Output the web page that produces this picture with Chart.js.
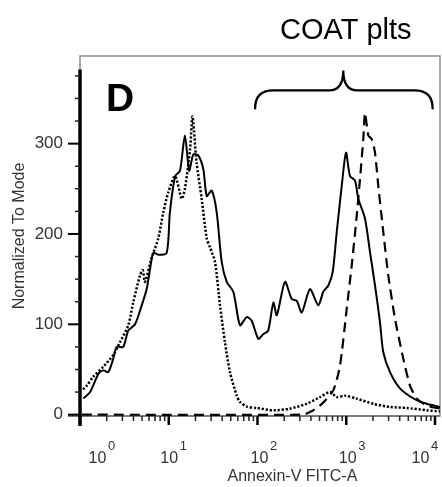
<!DOCTYPE html>
<html><head><meta charset="utf-8">
<style>html,body{margin:0;padding:0;background:#fff;}#wrap{width:442px;height:487px;}</style>
<script src="https://cdn.jsdelivr.net/npm/chart.js@4.4.1/dist/chart.umd.min.js"></script>
</head><body><div id="wrap"><canvas id="c" width="442" height="487"></canvas></div>
<script>
// ---- text ----
const titleText = 'COAT plts';
const panelLetter = 'D';
const xAxisTitle = 'Annexin-V FITC-A';
const yAxisTitle = 'Normalized To Mode';

// ---- ticks ----
const yTickValues = [0, 100, 200, 300];
const xTickValues = [1, 10, 100, 1000, 10000];
const xTickBase = '10';
const xTickExponents = ['0', '1', '2', '3', '4'];

// ---- series: solid (Annexin-V stained) ----
const solidX = [1.09,1.30,1.61,1.83,2.08,2.37,2.59,3.07,3.50,4.17,4.96,5.64,6.15,6.70,7.62,9.48,10.3,11.8,13.4,15.2,17.0,18.9,21.5,24.5,26.8,30.5,34.7,39.5,45.0,53.4,63.5,75.5,86.0,102,116,132,151,165,204,243,277,315,390,484,551,628,704,781,889,994,1102,1255,1367,1627,1852,2109,2401,2615,3112,4033,5694,8063,11385];
const solidY = [18,25,45,49,47,62,75,75,93,100,121,139,161,179,177,179,224,264,270,309,270,288,287,272,242,248,224,169,147,136,99,108,104,84,89,93,124,110,147,128,126,113,139,121,136,143,158,202,253,290,264,259,239,217,180,143,102,69,47,29,18,12,8.5];

// ---- series: dotted ----
const dottedX = [1.08,1.19,1.41,1.83,2.37,2.82,3.50,3.99,4.74,5.09,5.40,6.43,7.62,8.68,9.88,11.8,14.0,15.2,17.4,18.5,20.6,23.5,26.8,29.2,33.2,37.8,43.0,49.0,58.3,63.5,75.5,98,151,232,358,506,656,781,968,1312,2017,3112,4798,8063,11385];
const dottedY = [28,32,42,53,66,80,99,125,154,160,147,174,195,224,246,264,239,250,294,330,279,239,195,185,169,121,80,47,21,14,9,7.4,4.8,6.6,12,19.5,25,19.5,21,17.7,12,8.5,7.4,4.8,3.6];

// ---- series: dashed ----
const dashedX = [1.05,326,411,533,715,850,1012,1152,1312,1429,1556,1627,1773,1935,2109,2297,2615,2978,3543,4394,5227,6220,8063,11385];
const dashedY = [0,0,4,12,27,54,117,165,220,261,305,334,309,305,290,253,202,154,106,62,32,18,10,6.6];

// ---- brace annotation (data units) ----
const braceFromX = 94, braceToX = 9400, braceMidX = 926;
const braceEndY = 339, braceBarY = 359, braceTipY = 381;
const yAxisTop = 382;

function zip(xs, ys) { return xs.map((x, i) => ({x: x, y: ys[i]})); }

const FONT = '"Liberation Sans", Arial, Helvetica, sans-serif';
Chart.defaults.font.family = FONT;

const decor = {
  id: 'decor',
  beforeDatasetsDraw(chart) {
    const {ctx, chartArea: a} = chart;
    ctx.save();
    ctx.strokeStyle = '#8f8f8f'; ctx.lineWidth = 1.5;
    ctx.strokeRect(a.left, a.top, a.right - a.left, a.bottom - a.top);
    ctx.strokeStyle = '#7a7a7a'; ctx.lineWidth = 2;
    ctx.beginPath(); ctx.moveTo(a.left - 12, a.bottom); ctx.lineTo(a.right, a.bottom); ctx.stroke();
    ctx.restore();
  },
  afterDatasetsDraw(chart) {
    const {ctx, chartArea: a, scales: {x, y}} = chart;
    ctx.save();
    // y axis line
    ctx.strokeStyle = '#000'; ctx.lineWidth = 3.5;
    ctx.beginPath(); ctx.moveTo(a.left, y.getPixelForValue(yAxisTop)); ctx.lineTo(a.left, a.bottom + 10); ctx.stroke();
    // y ticks
    for (let v = 0; v <= 375; v += 25) {
      const py = y.getPixelForValue(v);
      const major = v % 100 === 0;
      ctx.lineWidth = major ? 2 : 1.5;
      ctx.strokeStyle = major ? '#000' : '#222';
      ctx.beginPath(); ctx.moveTo(a.left - (major ? 12 : 5), py); ctx.lineTo(a.left, py); ctx.stroke();
    }
    // x ticks
    for (let k = 0; k < xTickValues.length; k++) {
      const base = xTickValues[k];
      const mMax = k === xTickValues.length - 1 ? 1 : 9;
      for (let m = 1; m <= mMax; m++) {
        const px = x.getPixelForValue(base * m);
        const major = m === 1;
        ctx.lineWidth = major ? 2.5 : 1.5;
        ctx.strokeStyle = major ? '#000' : '#222';
        ctx.beginPath(); ctx.moveTo(px, a.bottom); ctx.lineTo(px, a.bottom + (major ? 9 : 5)); ctx.stroke();
      }
    }
    // x tick labels with superscripts
    const shifts = [17.5, 0.5, 2, 1.5, -14.5];
    ctx.fillStyle = '#333';
    ctx.textBaseline = 'alphabetic';
    for (let i = 0; i < xTickValues.length; i++) {
      const px = x.getPixelForValue(xTickValues[i]) + shifts[i];
      ctx.font = '16px ' + FONT;
      ctx.textAlign = 'center';
      ctx.fillText(xTickBase, px, 463);
      const w = ctx.measureText(xTickBase).width;
      ctx.font = '13px ' + FONT;
      ctx.textAlign = 'left';
      ctx.fillText(xTickExponents[i], px + w / 2 + 1.5, 450);
    }
    // x axis title
    ctx.font = '16px ' + FONT;
    ctx.textAlign = 'center';
    ctx.fillText(xAxisTitle, a.left + 0.59 * (a.right - a.left), 481);
    // brace
    const L = x.getPixelForValue(braceFromX), R = x.getPixelForValue(braceToX), C = x.getPixelForValue(braceMidX);
    const yE = y.getPixelForValue(braceEndY), yB = y.getPixelForValue(braceBarY), yT = y.getPixelForValue(braceTipY);
    const r = 18, r2 = 14;
    ctx.strokeStyle = '#000'; ctx.lineWidth = 2.3; ctx.lineCap = 'round';
    ctx.beginPath();
    ctx.moveTo(L, yE);
    ctx.quadraticCurveTo(L, yB, L + r, yB);
    ctx.lineTo(C - r2, yB);
    ctx.quadraticCurveTo(C, yB, C, yT);
    ctx.quadraticCurveTo(C, yB, C + r2, yB);
    ctx.lineTo(R - r, yB);
    ctx.quadraticCurveTo(R, yB, R, yE);
    ctx.stroke();
    // title
    ctx.fillStyle = '#000';
    ctx.font = '29px ' + FONT;
    ctx.textAlign = 'center';
    ctx.fillText(titleText, C + 2.5, 39);
    // panel letter
    ctx.font = 'bold 39px ' + FONT;
    ctx.textAlign = 'left';
    ctx.fillText(panelLetter, a.left + 26, 111);
    ctx.restore();
  }
};

new Chart(document.getElementById('c'), {
  type: 'line',
  data: {
    datasets: [
      { label: 'solid', data: zip(solidX, solidY), borderColor: '#000', borderWidth: 2, tension: 0.25, pointRadius: 0, fill: false },
      { label: 'dotted', data: zip(dottedX, dottedY), borderColor: '#000', borderWidth: 2.5, borderDash: [2.2, 1.8], tension: 0.25, pointRadius: 0, fill: false },
      { label: 'dashed', data: zip(dashedX, dashedY), borderColor: '#000', borderWidth: 2.2, borderDash: [10, 6], tension: 0.2, pointRadius: 0, fill: false }
    ]
  },
  options: {
    responsive: false,
    animation: false,
    devicePixelRatio: 1,
    layout: { padding: { left: 0, right: 2, top: 56, bottom: 0 } },
    plugins: { legend: { display: false }, tooltip: { enabled: false }, title: { display: false } },
    scales: {
      x: {
        type: 'logarithmic', min: 1, max: 11385,
        ticks: { display: false },
        grid: { display: false, drawTicks: false },
        border: { display: false },
        afterFit: (s) => { s.height = 71; }
      },
      y: {
        type: 'linear', min: -1.5, max: 397,
        afterBuildTicks: (s) => { s.ticks = yTickValues.map(v => ({value: v})); },
        ticks: { color: '#333', font: { size: 17 }, padding: 17 },
        grid: { display: false, drawTicks: false },
        border: { display: false },
        title: { display: true, text: yAxisTitle, color: '#333', font: { size: 16 }, padding: { top: 10, bottom: 0 } },
        afterFit: (s) => { s.width = 80; }
      }
    }
  },
  plugins: [decor]
});
</script>
</body></html>
